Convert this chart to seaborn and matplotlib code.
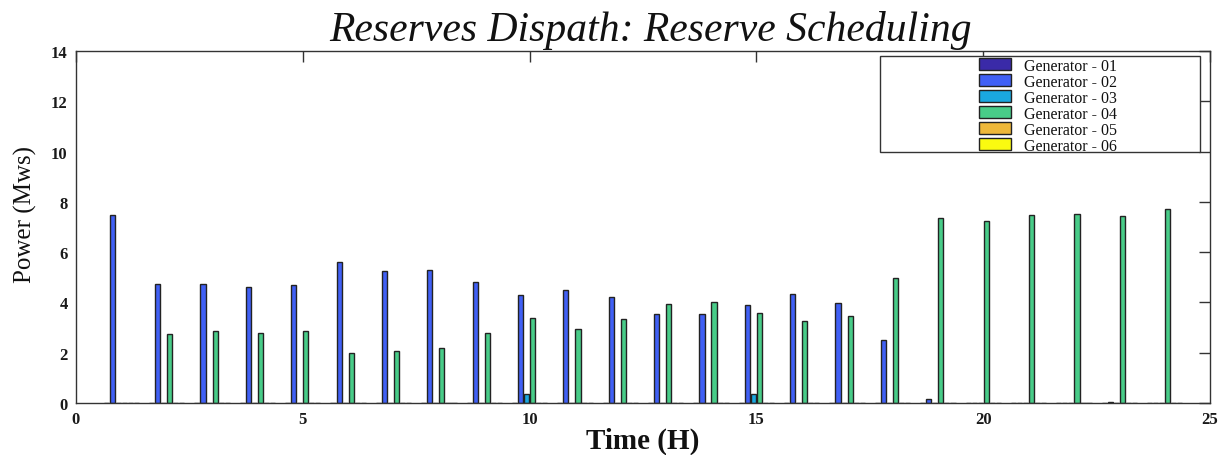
import numpy as np
import pandas as pd
import matplotlib
matplotlib.use("Agg")
import matplotlib.pyplot as plt
from matplotlib.patches import Rectangle
import seaborn as sns

# Hourly reserve allocation per generator (MW)
hours = list(range(1, 25))
generators = ["Generator - 01", "Generator - 02", "Generator - 03",
              "Generator - 04", "Generator - 05", "Generator - 06"]

gen01 = [0.0] * 24
gen02 = [7.48, 4.75, 4.75, 4.62, 4.71, 5.62, 5.26, 5.30, 4.80, 4.30, 4.50, 4.21,
         3.53, 3.53, 3.89, 4.34, 3.98, 2.49, 0.17, 0.0, 0.0, 0.0, 0.04, 0.0]
gen03 = [0.0, 0.0, 0.0, 0.0, 0.0, 0.0, 0.0, 0.0, 0.0, 0.35, 0.0, 0.0,
         0.0, 0.0, 0.35, 0.0, 0.0, 0.0, 0.0, 0.0, 0.0, 0.0, 0.0, 0.0]
gen04 = [0.0, 2.75, 2.85, 2.80, 2.85, 1.98, 2.08, 2.17, 2.80, 3.40, 2.94, 3.35,
         3.94, 4.02, 3.57, 3.25, 3.48, 4.97, 7.34, 7.25, 7.49, 7.53, 7.43, 7.70]
gen05 = [0.0] * 24
gen06 = [0.0] * 24

palette = ["#3A2AA8", "#4060F5", "#1AA8E0", "#48CC88", "#EEB83A", "#FAFA10"]

series = [gen01, gen02, gen03, gen04, gen05, gen06]
df = pd.DataFrame({
    "hour": np.tile(hours, len(generators)),
    "generator": np.repeat(generators, len(hours)),
    "power": np.concatenate(series),
})

sns.set_style("white")
plt.rcParams["font.family"] = ["Liberation Serif", "DejaVu Serif"]
plt.rcParams["text.color"] = "#111111"
plt.rcParams["axes.labelcolor"] = "#111111"

fig = plt.figure(figsize=(12.19, 4.56), dpi=100)
ax = fig.add_axes([76 / 1219, 1 - 404 / 456, (1210 - 76) / 1219, (404 - 52) / 456])

sns.barplot(data=df, x="hour", y="power", hue="generator", hue_order=generators,
            palette=palette, native_scale=True, width=0.8, gap=0.15,
            edgecolor="#222222", linewidth=1.0, saturation=1, errorbar=None,
            legend=True, ax=ax)

ax.set_xlim(0, 25)
ax.set_ylim(0, 14)
ax.set_xticks([0, 5, 10, 15, 20, 25])
ax.set_yticks(range(0, 15, 2))
for s in ax.spines.values():
    s.set_visible(True)
    s.set_color("#333333")
    s.set_linewidth(1.0)
ax.tick_params(direction="in", length=8, width=1, color="#333333",
               top=True, right=True, labelsize=12, pad=6)
for lab in ax.get_xticklabels() + ax.get_yticklabels():
    lab.set_fontweight("bold")
    lab.set_color("#1a1a1a")

ax.set_xlabel("Time (H)", fontsize=21, fontweight="bold", va="top")
ax.xaxis.set_label_coords(0.5, -0.068)
ax.set_ylabel("Power (Mws)", fontsize=18)
ax.yaxis.set_label_coords(-0.034, 0.537)
fig.text(651 / 1219, 0.975, "Reserves Dispath: Reserve Scheduling", fontsize=30,
         style="italic", ha="center", va="top")

# Legend box with entries sitting in its right part
handles, labels = ax.get_legend_handles_labels()
ax.get_legend().remove()
x0, x1 = (880 - 76) / 1134, (1200 - 76) / 1134
y0, y1 = (404 - 153) / 352, (404 - 57) / 352
ax.add_patch(Rectangle((x0, y0), x1 - x0, y1 - y0, transform=ax.transAxes,
                       facecolor="white", edgecolor="#333333", linewidth=1.0,
                       zorder=5))
leg = ax.legend(handles, labels, loc="upper left",
                bbox_to_anchor=((976 - 76) / 1134, y1 + 0.004),
                frameon=False, fontsize=11.5, handlelength=2.0, handleheight=0.8,
                handletextpad=0.8, labelspacing=0.0, borderpad=0.2,
                borderaxespad=0)
leg.set_zorder(6)

fig.savefig("out.png", dpi=100)
